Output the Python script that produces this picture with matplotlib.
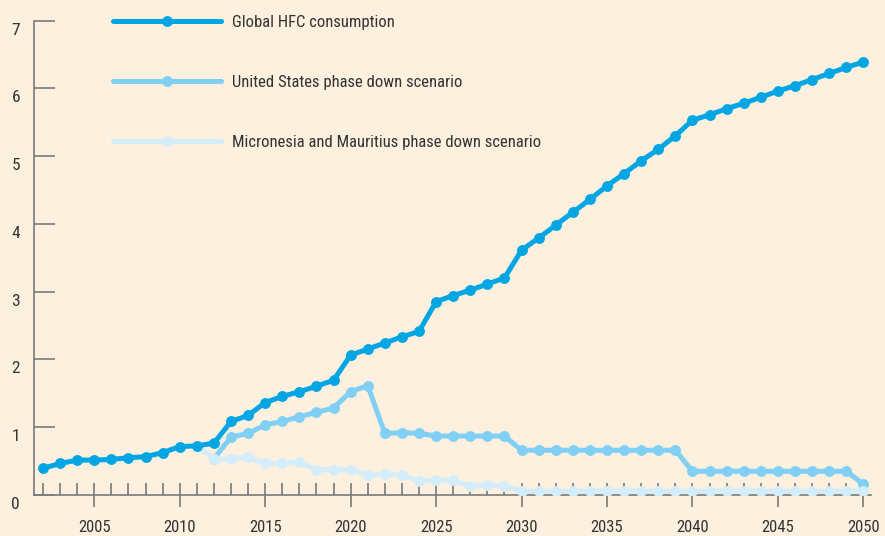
import numpy as np
import matplotlib.pyplot as plt
from matplotlib.transforms import ScaledTranslation
from matplotlib.ticker import MultipleLocator

plt.rcParams['font.family'] = ['Roboto Condensed', 'DejaVu Sans']

# years and HFC consumption
years_global = list(range(2002, 2051))
global_hfc = [0.39, 0.46, 0.51, 0.51, 0.52, 0.545, 0.56, 0.62, 0.71, 0.72,
              0.76, 1.08, 1.17, 1.36, 1.45, 1.52, 1.60, 1.69, 2.06, 2.15,
              2.24, 2.33, 2.41, 2.85, 2.94, 3.02, 3.11, 3.20, 3.61, 3.79,
              3.98, 4.17, 4.36, 4.56, 4.74, 4.93, 5.10, 5.30, 5.53, 5.61,
              5.70, 5.78, 5.87, 5.96, 6.04, 6.13, 6.22, 6.31, 6.39]

years_us = list(range(2012, 2051))
us_scenario = [0.53, 0.85, 0.905, 1.03, 1.08, 1.15, 1.215, 1.28, 1.52, 1.61,
               0.905, 0.915, 0.905, 0.865, 0.865, 0.865, 0.865, 0.865,
               0.655, 0.655, 0.655, 0.655, 0.655, 0.655, 0.655, 0.655, 0.655, 0.655,
               0.345, 0.345, 0.345, 0.345, 0.345, 0.345, 0.345, 0.345, 0.345, 0.345,
               0.155]

years_mm = list(range(2011, 2051))
mm_scenario = [0.72, 0.53, 0.53, 0.55, 0.46, 0.46, 0.48, 0.37, 0.37, 0.37,
               0.29, 0.30, 0.29, 0.205, 0.21, 0.21, 0.127, 0.14, 0.127,
               0.05, 0.05, 0.05, 0.05, 0.05, 0.05, 0.05, 0.05, 0.05, 0.05, 0.05,
               0.05, 0.05, 0.05, 0.05, 0.05, 0.05, 0.05, 0.05, 0.05, 0.05]

labels = ['Global HFC consumption', 'United States phase down scenario',
          'Micronesia and Mauritius phase down scenario']

bg = '#fdf0de'
c_global = '#00a5e3'
c_us = '#80cff4'
c_mm = '#d3edfa'
axis_col = '#7b7b7b'
text_col = '#333333'

fig = plt.figure(figsize=(8.85, 5.36), dpi=100, facecolor=bg)
ax = fig.add_axes([0.0384, 0.0772, 0.9458, 0.8842], facecolor=bg)

lw = 3.6
ms = 6.8
l1, = ax.plot(years_global, global_hfc, color=c_global, lw=lw, marker='o', ms=ms,
              zorder=5, solid_capstyle='round')
l2, = ax.plot(years_us, us_scenario, color=c_us, lw=lw, marker='o', ms=ms,
              zorder=3, solid_capstyle='round')
l3, = ax.plot(years_mm, mm_scenario, color=c_mm, lw=lw, marker='o', ms=ms,
              zorder=4, solid_capstyle='round')

ax.set_xlim(2001.47, 2050.45)
ax.set_ylim(0, 7)

for s in ['top', 'right']:
    ax.spines[s].set_visible(False)
for s in ['left', 'bottom']:
    ax.spines[s].set_color(axis_col)
    ax.spines[s].set_linewidth(1.2)

# x ticks: minor every year pointing up, major every 5 years crossing the axis
ax.xaxis.set_major_locator(MultipleLocator(5))
ax.set_xticks(range(2002, 2050), minor=True)
ax.tick_params(axis='x', which='major', direction='inout', length=17, width=1.2,
               color=axis_col, pad=9.5, labelsize=12, labelcolor=text_col)
ax.tick_params(axis='x', which='minor', direction='in', length=8.5, width=1.2,
               color=axis_col)

ax.set_yticks(range(0, 8))
ax.tick_params(axis='y', which='major', direction='in', length=15, width=1.2,
               color=axis_col, pad=10, labelsize=12.5, labelcolor=text_col)
for lab in ax.get_yticklabels():
    lab.set_transform(lab.get_transform() + ScaledTranslation(0, -8 / 100, fig.dpi_scale_trans))

leg = ax.legend([l1, l2, l3], labels, loc='upper left', bbox_to_anchor=(113 / 885, 1 - 14.5 / 536),
                bbox_transform=fig.transFigure, frameon=False, numpoints=1,
                handlelength=6.45, handletextpad=0.66, labelspacing=2.72,
                borderpad=0, borderaxespad=0, fontsize=12, labelcolor=text_col)

fig.savefig('out.png', dpi=100, facecolor=bg)
